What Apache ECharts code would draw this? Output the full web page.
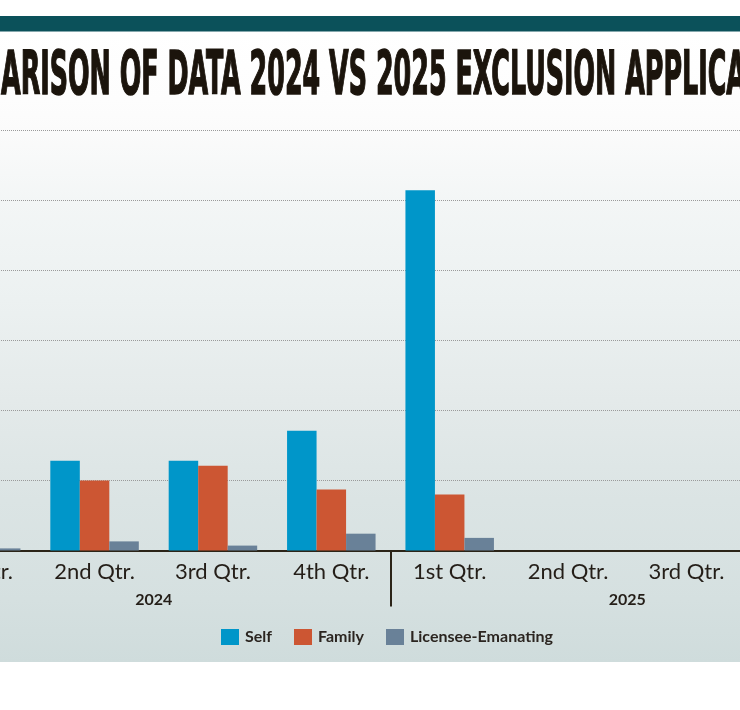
<!DOCTYPE html>
<html>
<head>
<meta charset="utf-8">
<script src="https://cdn.jsdelivr.net/npm/echarts@6/dist/echarts.min.js"></script>
<style>
html,body{margin:0;padding:0;background:#ffffff;}
#chart{width:740px;height:710px;}
</style>
</head>
<body>
<div id="chart"></div>
<script>
// ---- data ----
const titleText = 'ARISON OF DATA 2024 VS 2025 EXCLUSION APPLICA';
const quarters = ['1st Qtr.', '2nd Qtr.', '3rd Qtr.', '4th Qtr.', '1st Qtr.', '2nd Qtr.', '3rd Qtr.', '4th Qtr.'];
const years = ['2024', '2025'];
const seriesNames = ['Self', 'Family', 'Licensee-Emanating'];
const selfValues = [120, 128, 128, 171, 514, null, null, null];
const familyValues = [95, 100, 121, 87, 80, null, null, null];
const licenseeValues = [3, 13, 7, 24, 18, null, null, null];
const yMax = 600;
const yInterval = 100;

// ---- styles ----
const colors = ['#0096c9', '#cc5633', '#698198'];
const dark = '#2b2418';

const chart = echarts.init(document.getElementById('chart'), null, {renderer: 'canvas'});

// title scaling (condensed display face)
const titleFont = 48;
const mctx = document.createElement('canvas').getContext('2d');
mctx.font = 'bold ' + titleFont + 'px "DejaVu Sans Condensed"';
const titleW = mctx.measureText(titleText).width;
const titleScaleX = 745 / titleW;
const titleScaleY = 44 / (0.729 * titleFont);

const option = {
  animation: false,
  backgroundColor: '#ffffff',
  graphic: [
    {
      type: 'rect', z: -10, silent: true,
      shape: {x: 0, y: 32, width: 740, height: 630},
      style: {
        fill: new echarts.graphic.LinearGradient(0, 0, 0, 1, [
          {offset: 0, color: '#ffffff'},
          {offset: (100 - 32) / 630, color: '#fdfdfd'},
          {offset: (130 - 32) / 630, color: '#fbfbfb'},
          {offset: (200 - 32) / 630, color: '#f3f6f6'},
          {offset: (300 - 32) / 630, color: '#ecf1f1'},
          {offset: (400 - 32) / 630, color: '#e4eaea'},
          {offset: (500 - 32) / 630, color: '#dbe4e4'},
          {offset: (600 - 32) / 630, color: '#d5e0e0'},
          {offset: 1, color: '#cfdcdc'}
        ])
      }
    },
    {
      type: 'rect', z: -5, silent: true,
      shape: {x: 0, y: 16, width: 740, height: 15.5},
      style: {fill: '#0b515a'}
    },
    {
      type: 'text', silent: true, z: 10,
      x: 1, y: 78, scaleX: titleScaleX, scaleY: titleScaleY,
      style: {
        text: titleText,
        font: 'bold ' + titleFont + 'px "DejaVu Sans Condensed"',
        fill: '#1b140c',
        stroke: '#1b140c',
        lineWidth: 1.2,
        textAlign: 'left',
        verticalAlign: 'middle'
      }
    }
  ],
  legend: {
    data: seriesNames,
    left: 216,
    top: 624,
    icon: 'rect',
    itemWidth: 18,
    itemHeight: 16,
    itemGap: 22,
    textStyle: {
      fontFamily: 'Lato',
      fontWeight: 'bold',
      fontSize: 16,
      color: '#2b2520',
      padding: [0, 0, 0, 1]
    }
  },
  grid: {
    left: -83,
    right: -124,
    top: 130,
    bottom: 159.5,
    containLabel: false,
    outerBoundsMode: 'none'
  },
  xAxis: [
    {
      type: 'category',
      data: quarters,
      boundaryGap: true,
      axisLine: {show: true, lineStyle: {color: dark, width: 2}},
      axisTick: {show: false},
      axisLabel: {
        interval: 0,
        margin: 10,
        fontFamily: 'Lato',
        fontSize: 22,
        color: '#241e18',
        hideOverlap: false
      },
      splitLine: {show: false}
    },
    {
      type: 'category',
      data: years,
      position: 'bottom',
      boundaryGap: true,
      axisLine: {show: false},
      axisTick: {show: true, length: 56, lineStyle: {color: dark, width: 2}},
      axisLabel: {
        interval: 0,
        margin: 41,
        fontFamily: 'Lato',
        fontWeight: 'bold',
        fontSize: 16,
        color: '#241e18'
      },
      splitLine: {show: false}
    }
  ],
  yAxis: {
    type: 'value',
    min: 0,
    max: yMax,
    interval: yInterval,
    axisLine: {show: false},
    axisTick: {show: false},
    axisLabel: {show: false},
    splitLine: {show: true, lineStyle: {color: '#9a9a9a', width: 1, type: [1, 1]}}
  },
  series: [
    {name: seriesNames[0], type: 'bar', data: selfValues, barWidth: 29.5, barGap: '0%', itemStyle: {color: colors[0]}},
    {name: seriesNames[1], type: 'bar', data: familyValues, barWidth: 29.5, barGap: '0%', itemStyle: {color: colors[1]}},
    {name: seriesNames[2], type: 'bar', data: licenseeValues, barWidth: 29.5, barGap: '0%', itemStyle: {color: colors[2]}}
  ]
};
chart.setOption(option);
</script>
</body>
</html>
